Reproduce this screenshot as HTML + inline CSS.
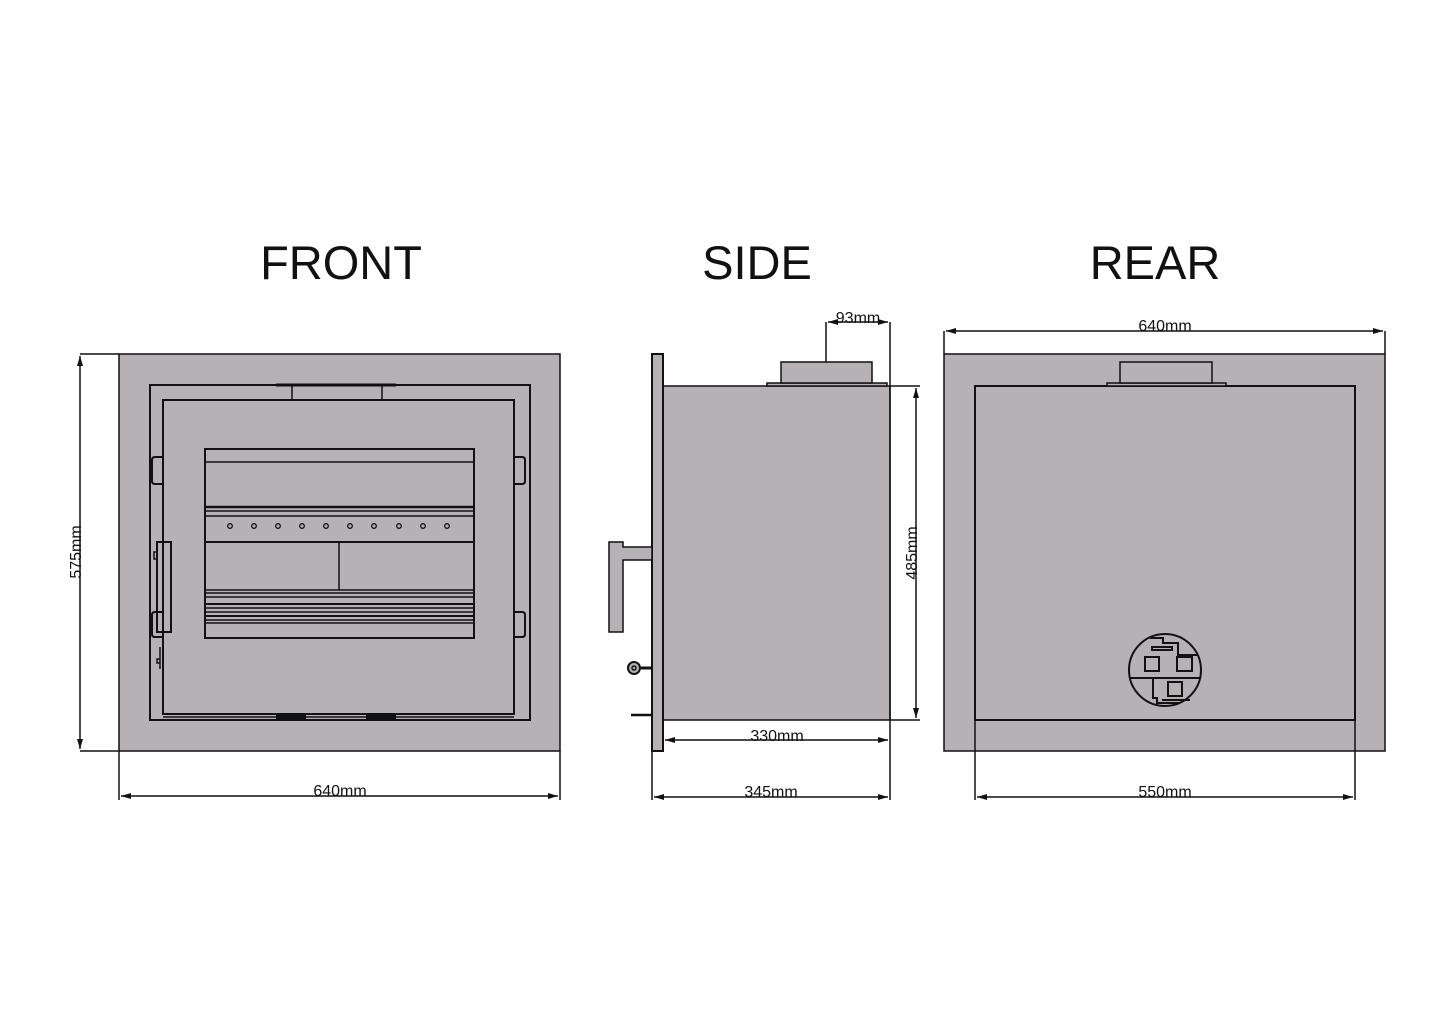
<!DOCTYPE html>
<html><head><meta charset="utf-8"><style>html,body{margin:0;padding:0;background:#fff}svg{display:block}</style></head><body>
<svg width="1445" height="1022" viewBox="0 0 1445 1022" xmlns="http://www.w3.org/2000/svg" font-family="Liberation Sans, Arial, sans-serif">
<defs>
<marker id="a" viewBox="0 0 10 6" refX="10" refY="3" markerWidth="10" markerHeight="6" orient="auto-start-reverse" markerUnits="userSpaceOnUse"><path d="M0,0 L10,3 L0,6z" fill="#111"/></marker>
<clipPath id="cc"><circle cx="1165" cy="670" r="36"/></clipPath>
</defs>
<rect width="1445" height="1022" fill="#fff"/>
<g font-size="47" fill="#111" text-anchor="middle">
<text x="341" y="279">FRONT</text>
<text x="757" y="279">SIDE</text>
<text x="1155" y="279">REAR</text>
</g>
<g stroke="#111" fill="none" stroke-width="1.5">
<!-- FRONT -->
<rect x="119" y="354" width="441" height="397" fill="#b5b1b4"/>
<rect x="150" y="385" width="380" height="335" stroke-width="2"/>
<rect x="163" y="400" width="351" height="314" stroke-width="2"/>
<line x1="276" y1="385" x2="396" y2="385" stroke-width="3"/>
<line x1="292" y1="385" x2="292" y2="400"/><line x1="382" y1="385" x2="382" y2="400"/>
<line x1="163" y1="717" x2="514" y2="717"/>
<line x1="276" y1="717" x2="306" y2="717" stroke-width="4"/><line x1="366" y1="717" x2="396" y2="717" stroke-width="4"/>
<rect x="205" y="449" width="269" height="189" stroke-width="2"/>
<line x1="205" y1="462" x2="474" y2="462"/>
<line x1="205" y1="507" x2="474" y2="507" stroke-width="2.5"/>
<line x1="205" y1="511" x2="474" y2="511"/>
<line x1="205" y1="516" x2="474" y2="516"/>
<line x1="205" y1="542" x2="474" y2="542" stroke-width="2"/>
<line x1="339" y1="542" x2="339" y2="590"/>
<line x1="205" y1="590" x2="474" y2="590"/>
<line x1="205" y1="593" x2="474" y2="593"/>
<line x1="205" y1="597" x2="474" y2="597"/>
<line x1="205" y1="604" x2="474" y2="604" stroke-width="2"/>
<line x1="205" y1="608" x2="474" y2="608"/>
<line x1="205" y1="612" x2="474" y2="612"/>
<line x1="205" y1="616" x2="474" y2="616" stroke-width="2"/>
<line x1="205" y1="620" x2="474" y2="620"/>
<line x1="205" y1="623" x2="474" y2="623"/>
<g stroke-width="1.3">
<circle cx="230" cy="526" r="2.3"/><circle cx="254" cy="526" r="2.3"/><circle cx="278" cy="526" r="2.3"/><circle cx="302" cy="526" r="2.3"/><circle cx="326" cy="526" r="2.3"/><circle cx="350" cy="526" r="2.3"/><circle cx="374" cy="526" r="2.3"/><circle cx="399" cy="526" r="2.3"/><circle cx="423" cy="526" r="2.3"/><circle cx="447" cy="526" r="2.3"/>
</g>
<rect x="157" y="542" width="14" height="90" stroke-width="2"/>
<rect x="154" y="552" width="3" height="7"/>
<path d="M163 457 h-8 q-3 0 -3 3 v21 q0 3 3 3 h8" stroke-width="2"/>
<path d="M163 612 h-8 q-3 0 -3 3 v19 q0 3 3 3 h8" stroke-width="2"/>
<path d="M514 457 h8 q3 0 3 3 v21 q0 3 -3 3 h-8" stroke-width="2"/>
<path d="M514 612 h8 q3 0 3 3 v19 q0 3 -3 3 h-8" stroke-width="2"/>
<path d="M160 647 v22 M157 659 h3 v4 h-3z"/>
<!-- front dims -->
<line x1="80" y1="354" x2="119" y2="354"/><line x1="80" y1="751" x2="119" y2="751"/>
<line x1="80" y1="356" x2="80" y2="749" marker-start="url(#a)" marker-end="url(#a)"/>
<line x1="119" y1="751" x2="119" y2="800"/><line x1="560" y1="751" x2="560" y2="800"/>
<line x1="121" y1="796" x2="558" y2="796" marker-start="url(#a)" marker-end="url(#a)"/>
<!-- SIDE -->
<rect x="663" y="386" width="227" height="334" fill="#b5b1b4"/>
<rect x="767" y="383" width="120" height="3" fill="#b5b1b4"/>
<rect x="781" y="362" width="91" height="21" fill="#b5b1b4"/>
<rect x="652" y="354" width="11" height="397" fill="#b5b1b4" stroke-width="2"/>
<path d="M609 542 h14 v5 h29 v13 h-29 v72 h-14z" fill="#b5b1b4"/>
<line x1="641" y1="668" x2="652" y2="668" stroke-width="3"/>
<circle cx="634" cy="668" r="6" fill="#b5b1b4" stroke-width="2"/><circle cx="634" cy="668" r="2"/>
<line x1="631" y1="715" x2="652" y2="715" stroke-width="2.5"/>
<line x1="826" y1="362" x2="826" y2="322"/>
<line x1="828" y1="322" x2="888" y2="322" marker-start="url(#a)" marker-end="url(#a)"/>
<line x1="890" y1="322" x2="890" y2="800"/>
<line x1="890" y1="386" x2="920" y2="386"/><line x1="890" y1="720" x2="920" y2="720"/>
<line x1="916" y1="388" x2="916" y2="718" marker-start="url(#a)" marker-end="url(#a)"/>
<line x1="665" y1="740" x2="888" y2="740" marker-start="url(#a)" marker-end="url(#a)"/>
<line x1="652" y1="751" x2="652" y2="800"/>
<line x1="654" y1="797" x2="888" y2="797" marker-start="url(#a)" marker-end="url(#a)"/>
<!-- REAR -->
<rect x="944" y="354" width="441" height="397" fill="#b5b1b4"/>
<rect x="975" y="386" width="380" height="334" stroke-width="2"/>
<rect x="1107" y="383" width="119" height="3" fill="#b5b1b4"/>
<rect x="1120" y="362" width="92" height="21" fill="#b5b1b4"/>
<line x1="975" y1="720" x2="975" y2="800"/><line x1="1355" y1="720" x2="1355" y2="800"/>
<line x1="977" y1="797" x2="1353" y2="797" marker-start="url(#a)" marker-end="url(#a)"/>
<line x1="944" y1="331" x2="944" y2="354"/><line x1="1385" y1="331" x2="1385" y2="354"/>
<line x1="946" y1="331" x2="1383" y2="331" marker-start="url(#a)" marker-end="url(#a)"/>
<g stroke-width="2">
<g clip-path="url(#cc)">
<line x1="1125" y1="678" x2="1205" y2="678"/>
<path d="M1150 638 h13 v5 h15 v12 h30"/>
<path d="M1153 678 v20 h4 v5 h40"/>
</g>
<circle cx="1165" cy="670" r="36"/>
<rect x="1152" y="647" width="20" height="3"/>
<rect x="1145" y="657" width="14" height="14"/><rect x="1177" y="657" width="15" height="14"/><rect x="1168" y="682" width="14" height="14"/>
<line x1="1162" y1="700" x2="1190" y2="700"/>
</g>
</g>
<g font-size="16" fill="#111" text-anchor="middle">
<text x="340" y="796">640mm</text>
<text transform="translate(81,552) rotate(-90)">575mm</text>
<text x="858" y="323">93mm</text>
<text transform="translate(917,553) rotate(-90)">485mm</text>
<text x="777" y="741">330mm</text>
<text x="771" y="797">345mm</text>
<text x="1165" y="331">640mm</text>
<text x="1165" y="797">550mm</text>
</g>
</svg>
</body></html>
